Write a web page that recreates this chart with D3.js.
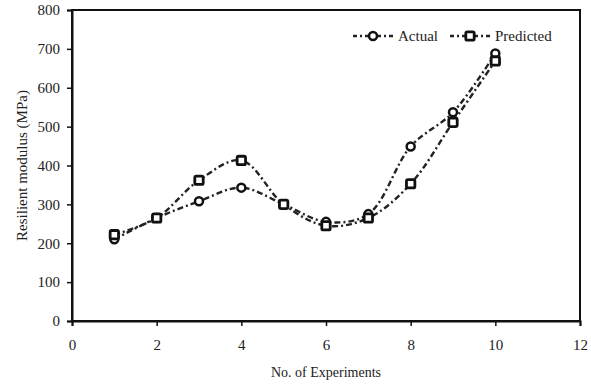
<!DOCTYPE html>
<html>
<head>
<meta charset="utf-8">
<script src="https://cdn.jsdelivr.net/npm/d3@7"></script>
<style>
  html, body { margin: 0; padding: 0; background: #fff; }
  svg text { font-family: "Liberation Serif", "Times New Roman", serif; fill: #222; }
</style>
</head>
<body>
<svg id="chart" width="591" height="386"></svg>
<script>
// Experiment numbers and resilient modulus values (MPa)
const experiments = [1, 2, 3, 4, 5, 6, 7, 8, 9, 10];
const actual    = [210, 265, 308, 343, 300, 255, 275, 449, 537, 688];
const predicted = [222, 265, 362, 413, 300, 245, 265, 353, 511, 669];

const xTicks = [0, 2, 4, 6, 8, 10, 12];
const yTicks = [0, 100, 200, 300, 400, 500, 600, 700, 800];

(function () {
const svg = d3.select("#chart");
const plotL = 72, plotR = 580, plotT = 10, plotB = 321;

const x = d3.scaleLinear().domain([0, 12]).range([plotL, plotR]);
const y = d3.scaleLinear().domain([0, 800]).range([plotB, plotT]);

// Plot frame
svg.append("rect")
  .attr("x", plotL).attr("y", plotT)
  .attr("width", plotR - plotL).attr("height", plotB - plotT)
  .attr("fill", "none").attr("stroke", "#111").attr("stroke-width", 2);

// Axes
const xAxis = svg.append("g")
  .attr("transform", `translate(0,${plotB})`)
  .call(d3.axisBottom(x).tickValues(xTicks).tickSize(5).tickPadding(13).tickFormat(d3.format("d")));
const yAxis = svg.append("g")
  .attr("transform", `translate(${plotL},0)`)
  .call(d3.axisLeft(y).tickValues(yTicks).tickSize(5).tickPadding(7).tickFormat(d3.format("d")));

[xAxis, yAxis].forEach(g => {
  g.select(".domain").attr("stroke", "#111").attr("stroke-width", 2);
  g.selectAll(".tick line").attr("stroke", "#111").attr("stroke-width", 1.5);
  g.selectAll(".tick text").style("font-size", "15px").attr("fill", "#222");
});

// Axis titles
svg.append("text")
  .attr("x", (plotL + plotR) / 2 + 0).attr("y", 377)
  .attr("text-anchor", "middle").style("font-size", "14px")
  .text("No. of Experiments");
svg.append("text")
  .attr("transform", `translate(27,${(plotT + plotB) / 2}) rotate(-90)`)
  .attr("text-anchor", "middle").style("font-size", "15px")
  .text("Resilient modulus (MPa)");

// Smoothed dash-dot lines
const line = d3.line()
  .x((d, i) => x(experiments[i]))
  .y(d => y(d))
  .curve(d3.curveCatmullRom.alpha(0.5));

const dash = "6,3,2,3";
const seriesList = [
  { name: "Actual", values: actual, marker: "circle" },
  { name: "Predicted", values: predicted, marker: "square" }
];

seriesList.forEach(s => {
  svg.append("path")
    .datum(s.values)
    .attr("d", line)
    .attr("fill", "none")
    .attr("stroke", "#222")
    .attr("stroke-width", 2.4)
    .attr("stroke-dasharray", dash);
});

function drawMarker(g, type, cx, cy) {
  if (type === "circle") {
    g.append("circle").attr("cx", cx).attr("cy", cy).attr("r", 4)
      .attr("fill", "#fff").attr("stroke", "#111").attr("stroke-width", 2.5);
  } else {
    g.append("rect").attr("x", cx - 4.2).attr("y", cy - 4.2)
      .attr("width", 8.4).attr("height", 8.4).attr("rx", 1.5)
      .attr("fill", "#fff").attr("stroke", "#111").attr("stroke-width", 2.8);
  }
}

seriesList.forEach(s => {
  const g = svg.append("g");
  s.values.forEach((v, i) => drawMarker(g, s.marker, x(experiments[i]), y(v)));
});

// Legend
const legendItems = [
  { name: "Actual", marker: "circle", x0: 353 },
  { name: "Predicted", marker: "square", x0: 450 }
];
const ly = 36;
legendItems.forEach(item => {
  const g = svg.append("g");
  g.append("line")
    .attr("x1", item.x0).attr("x2", item.x0 + 43)
    .attr("y1", ly).attr("y2", ly)
    .attr("stroke", "#222").attr("stroke-width", 2.4)
    .attr("stroke-dasharray", "4,3,2,3");
  drawMarker(g, item.marker, item.x0 + 20, ly);
  g.append("text")
    .attr("x", item.x0 + 45).attr("y", ly + 5)
    .style("font-size", "15px")
    .text(item.name);
});
})();
</script>
</body>
</html>
